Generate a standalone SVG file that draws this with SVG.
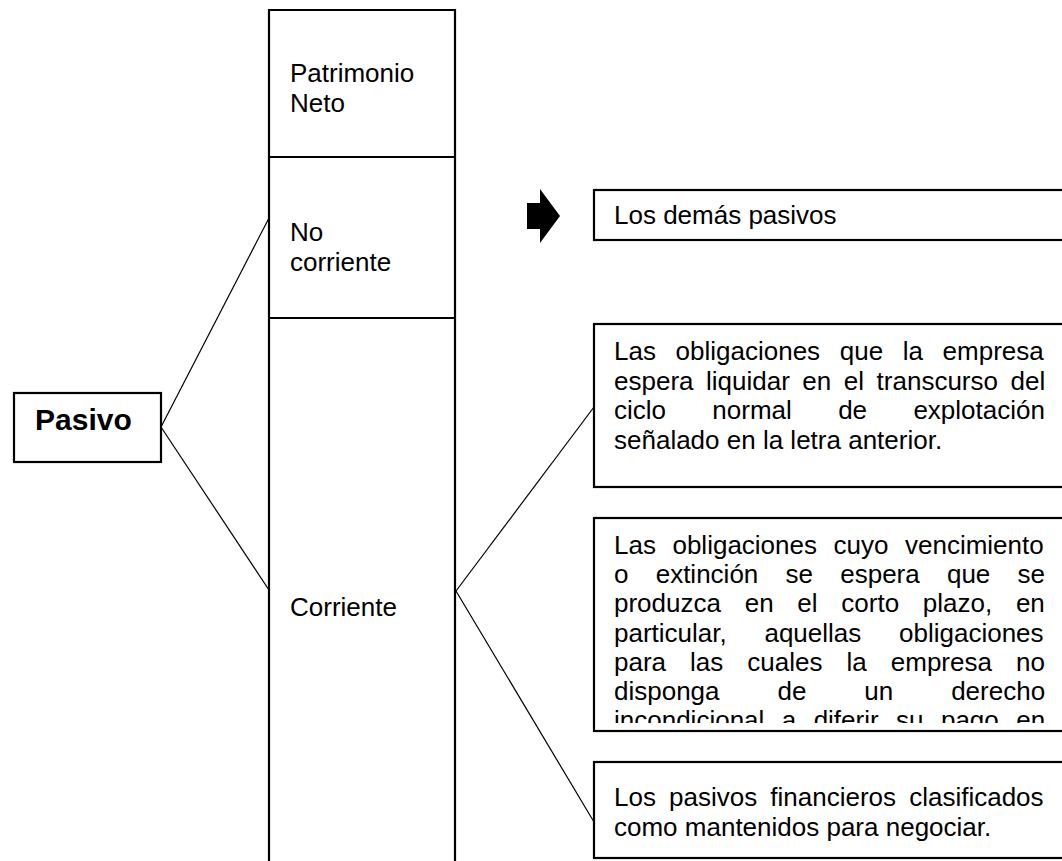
<svg xmlns="http://www.w3.org/2000/svg" width="1062" height="861" viewBox="0 0 1062 861">
<style>
.box{fill:#fff;stroke:#000;stroke-width:2.2}
.col{fill:none;stroke:#000;stroke-width:2.2}
.t{font-family:"Liberation Sans",Arial,sans-serif;font-size:26px;fill:#000}
.b{font-family:"Liberation Sans",Arial,sans-serif;font-size:30px;font-weight:bold;fill:#000}
.c{fill:none;stroke:#000;stroke-width:1.2}
</style>
<defs>
<clipPath id="clip2"><rect x="594" y="519" width="470" height="204"/></clipPath>
</defs>
<rect width="1062" height="861" fill="#fff"/>
<g id="connectors">
<line class="c" x1="161" y1="427" x2="269" y2="218"/>
<line class="c" x1="161" y1="427" x2="269" y2="590"/>
<line class="c" x1="456" y1="591" x2="594" y2="407"/>
<line class="c" x1="456" y1="591" x2="594" y2="822"/>
<polygon points="527,203 540,203 540,189 560,216 540,243 540,229 527,229" fill="#000"/>
</g>
<g id="column">
<path class="col" d="M269,870 V10 H455 V870 M269,157 H455 M269,318 H455"/>
</g>
<g id="patrimonio-neto">
<text class="t" x="290" y="82">Patrimonio</text>
<text class="t" x="290" y="112">Neto</text>
</g>
<g id="no-corriente">
<text class="t" x="290" y="241">No</text>
<text class="t" x="290" y="271">corriente</text>
</g>
<g id="corriente">
<text class="t" x="290" y="616">Corriente</text>
</g>
<g id="pasivo">
<rect class="box" x="14" y="393" width="147" height="69"/>
<text class="b" x="35" y="430">Pasivo</text>
</g>
<g id="demas">
<rect class="box" x="594" y="190" width="480" height="50"/>
<text class="t" x="614" y="224">Los demás pasivos</text>
</g>
<g id="box1">
<rect class="box" x="594" y="324" width="480" height="163"/>
<text class="t" x="614" y="360" word-spacing="12.4">Las obligaciones que la empresa</text>
<text class="t" x="614" y="389.5" word-spacing="5.3">espera liquidar en el transcurso del</text>
<text class="t" x="614" y="419" word-spacing="39.1">ciclo normal de explotación</text>
<text class="t" x="614" y="448.5">señalado en la letra anterior.</text>
</g>
<g id="box2">
<rect class="box" x="594" y="518" width="480" height="213"/>
<g clip-path="url(#clip2)">
<text class="t" x="614" y="554" word-spacing="9.3">Las obligaciones cuyo vencimiento</text>
<text class="t" x="614" y="583.2" word-spacing="20">o extinción se espera que se</text>
<text class="t" x="614" y="612.4" word-spacing="16.5">produzca en el corto plazo, en</text>
<text class="t" x="614" y="641.6" word-spacing="30.5">particular, aquellas obligaciones</text>
<text class="t" x="614" y="670.8" word-spacing="16.8">para las cuales la empresa no</text>
<text class="t" x="614" y="700" word-spacing="50.7">disponga de un derecho</text>
<text class="t" x="614" y="729.2" word-spacing="10.2">incondicional a diferir su pago en</text>
</g>
</g>
<g id="box3">
<rect class="box" x="594" y="762" width="480" height="96"/>
<text class="t" x="614" y="806" word-spacing="5.9">Los pasivos financieros clasificados</text>
<text class="t" x="614" y="836">como mantenidos para negociar.</text>
</g>
</svg>
